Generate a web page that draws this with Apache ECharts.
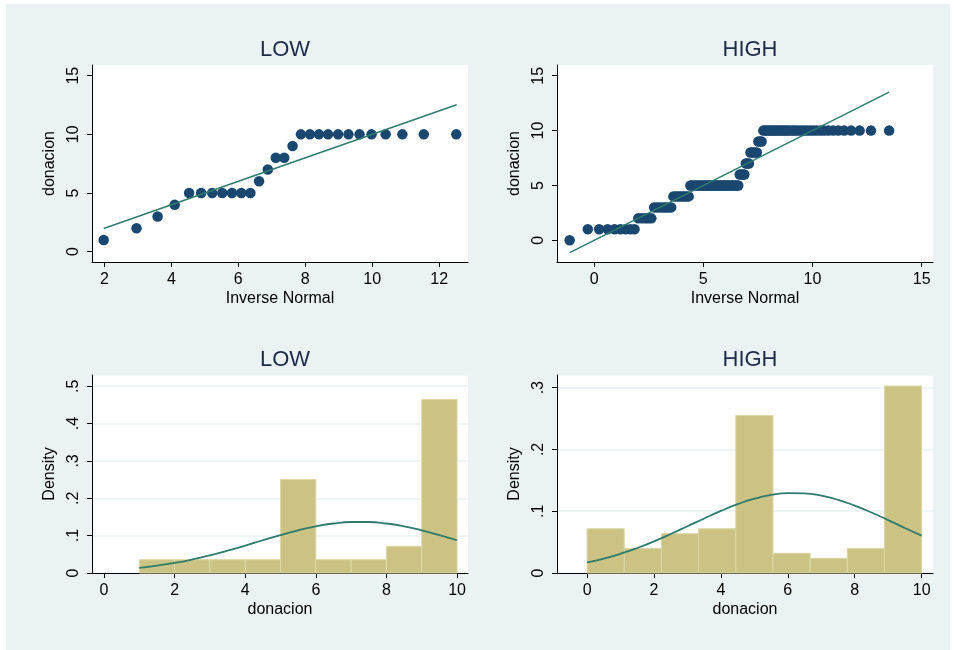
<!DOCTYPE html>
<html><head><meta charset="utf-8">
<script src="https://cdn.jsdelivr.net/npm/echarts@6/dist/echarts.min.js"></script>
<style>html,body{margin:0;padding:0;background:#fff}#c{width:954px;height:650px}</style>
</head><body><div id="c"></div>
<script>
// ---------- DATA ----------
const titles = ['LOW', 'HIGH', 'LOW', 'HIGH'];

// qnorm LOW: inverse normal quantiles and sorted donacion values
const lowQuantile = [1.98, 2.96, 3.59, 4.10, 4.53, 4.89, 5.22, 5.52, 5.81, 6.09, 6.36, 6.62, 6.88, 7.12,
  7.37, 7.62, 7.87, 8.14, 8.41, 8.68, 8.98, 9.29, 9.62, 9.98, 10.40, 10.90, 11.54, 12.51];
const lowDonacion = [1, 2, 3, 4, 5, 5, 5, 5, 5, 5, 5, 6, 7, 8, 8, 9, 10, 10, 10, 10, 10, 10, 10, 10, 10, 10, 10, 10];
const lowRefLine = [[1.98, 1.98], [12.52, 12.52]];

// qnorm HIGH
const highQuantile = [-1.12, -0.29, 0.23, 0.62, 0.94, 1.21, 1.44, 1.66, 1.85, 2.02, 2.19, 2.34, 2.48, 2.62,
  2.75, 2.87, 2.99, 3.11, 3.22, 3.32, 3.43, 3.53, 3.63, 3.72, 3.81, 3.90, 3.99, 4.08, 4.16, 4.24, 4.33,
  4.41, 4.49, 4.56, 4.64, 4.72, 4.79, 4.87, 4.94, 5.02, 5.09, 5.16, 5.23, 5.30, 5.37, 5.44, 5.52, 5.58,
  5.65, 5.72, 5.79, 5.86, 5.92, 5.99, 6.06, 6.13, 6.20, 6.26, 6.33, 6.40, 6.47, 6.53, 6.60, 6.67, 6.74,
  6.81, 6.88, 6.95, 7.02, 7.09, 7.16, 7.23, 7.30, 7.37, 7.45, 7.52, 7.60, 7.67, 7.75, 7.83, 7.90, 7.98,
  8.06, 8.15, 8.23, 8.31, 8.40, 8.49, 8.58, 8.67, 8.77, 8.86, 8.96, 9.07, 9.17, 9.28, 9.40, 9.52, 9.64,
  9.77, 9.91, 10.05, 10.20, 10.37, 10.54, 10.73, 10.95, 11.18, 11.45, 11.77, 12.16, 12.68, 13.51];
const highDonacion = [0,
  1, 1, 1, 1, 1, 1, 1, 1,
  2, 2, 2, 2, 2,
  3, 3, 3, 3, 3, 3, 3, 3,
  4, 4, 4, 4, 4, 4, 4, 4, 4,
  5, 5, 5, 5, 5, 5, 5, 5, 5, 5, 5, 5, 5, 5, 5, 5, 5, 5, 5, 5, 5, 5, 5, 5, 5, 5, 5, 5, 5, 5, 5, 5,
  6, 6, 6, 6,
  7, 7, 7,
  8, 8, 8, 8, 8,
  9, 9, 9,
  10, 10, 10, 10, 10, 10, 10, 10, 10, 10, 10, 10, 10, 10, 10, 10, 10, 10, 10, 10, 10, 10, 10, 10, 10,
  10, 10, 10, 10, 10, 10, 10, 10, 10, 10];
const highRefLine = [[-1.12, -1.12], [13.51, 13.51]];

// histograms: [binStart, binEnd, density]
const lowBins = [[1, 2, 0.0357], [2, 3, 0.0357], [3, 4, 0.0357], [4, 5, 0.0357], [5, 6, 0.25],
  [6, 7, 0.0357], [7, 8, 0.0357], [8, 9, 0.0714], [9, 10, 0.4643]];
const highBins = [[0, 1.111, 0.0717], [1.111, 2.222, 0.0398], [2.222, 3.333, 0.0637], [3.333, 4.444, 0.0717],
  [4.444, 5.556, 0.2549], [5.556, 6.667, 0.0319], [6.667, 7.778, 0.0239], [7.778, 8.889, 0.0398], [8.889, 10, 0.3027]];

// normal density overlays
const lowCurveX = [1, 1.5, 2, 2.5, 3, 3.5, 4, 4.5, 5, 5.5, 6, 6.5, 7, 7.5, 8, 8.5, 9, 9.5, 10];
const lowCurveY = [0.0137, 0.0195, 0.0269, 0.0362, 0.0472, 0.0597, 0.0734, 0.0877, 0.1016, 0.1143, 0.1249,
  0.1325, 0.1365, 0.1365, 0.1325, 0.1249, 0.1143, 0.1016, 0.0877];
const highCurveX = [0, 0.5, 1, 1.5, 2, 2.5, 3, 3.5, 4, 4.5, 5, 5.5, 6, 6.5, 7, 7.5, 8, 8.5, 9, 9.5, 10];
const highCurveY = [0.0171, 0.0234, 0.0312, 0.0405, 0.0512, 0.0631, 0.0756, 0.0883, 0.1005, 0.1114, 0.1202,
  0.1263, 0.1293, 0.1290, 0.1252, 0.1185, 0.1091, 0.0979, 0.0856, 0.0728, 0.0604];

// tick values
const ticksLowQX = [2, 4, 6, 8, 10, 12];
const ticksQY = [0, 5, 10, 15];
const ticksHighQX = [0, 5, 10, 15];
const ticksHistX = [0, 2, 4, 6, 8, 10];

// ---------- STYLE ----------
const FONT = "'Liberation Sans', Arial, Helvetica, sans-serif";
const NAVY = '#1a476f';
const TEAL = '#2f7b6c';
const BAR = '#cbc283';
const BAR_EDGE = '#dcd7a8';
const BG = '#eaf2f3';

const grids = [
  {left: 92, top: 65, width: 376, height: 197},
  {left: 557, top: 65, width: 376, height: 197},
  {left: 92, top: 375, width: 376, height: 198},
  {left: 557, top: 375, width: 376, height: 198}
].map(g => Object.assign({show: true, backgroundColor: '#fff', borderWidth: 0, outerBoundsMode: 'none', containLabel: false}, g));

function densityLabel(v) {
  if (Math.abs(v) < 1e-9) return '0';
  return String(Math.round(v * 10) / 10).replace(/^0/, '');
}

function xAxis(gi, min, max, ticks, name) {
  return {
    type: 'value', gridIndex: gi, min: min, max: max,
    name: name, nameLocation: 'middle', nameGap: 29,
    nameTextStyle: {fontFamily: FONT, fontSize: 16, color: '#000'},
    axisLine: {show: true, onZero: false, lineStyle: {color: '#000', width: 1}},
    axisTick: {show: true, length: 5, customValues: ticks, lineStyle: {color: '#000'}},
    axisLabel: {customValues: ticks, fontFamily: FONT, fontSize: 16, color: '#000', margin: 10},
    splitLine: {show: false}
  };
}
function yAxisQ(gi, min, max, ticks) {
  return {
    type: 'value', gridIndex: gi, min: min, max: max,
    name: 'donacion', nameLocation: 'middle', nameGap: 34,
    nameTextStyle: {fontFamily: FONT, fontSize: 16, color: '#000'},
    axisLine: {show: true, onZero: false, lineStyle: {color: '#000', width: 1}},
    axisTick: {show: true, length: 5, customValues: ticks, lineStyle: {color: '#000'}},
    axisLabel: {customValues: ticks, rotate: 90, fontFamily: FONT, fontSize: 16, color: '#000', margin: 10},
    splitLine: {show: false}
  };
}
function yAxisH(gi, max) {
  return {
    type: 'value', gridIndex: gi, min: 0, max: max, interval: 0.1,
    name: 'Density', nameLocation: 'middle', nameGap: 34,
    nameTextStyle: {fontFamily: FONT, fontSize: 16, color: '#000'},
    axisLine: {show: true, onZero: false, lineStyle: {color: '#000', width: 1}},
    axisTick: {show: true, length: 5, lineStyle: {color: '#000'}},
    axisLabel: {rotate: 90, fontFamily: FONT, fontSize: 16, color: '#000', margin: 10, formatter: densityLabel, showMaxLabel: false},
    splitLine: {show: true, lineStyle: {color: BG, width: 1.5}}
  };
}

function histSeries(bins, gi) {
  return {
    type: 'custom', xAxisIndex: gi, yAxisIndex: gi,
    data: bins,
    renderItem: function (params, api) {
      const p0 = api.coord([api.value(0), api.value(2)]);
      const p1 = api.coord([api.value(1), 0]);
      return {
        type: 'rect',
        shape: {x: p0[0], y: p0[1], width: p1[0] - p0[0], height: p1[1] - p0[1]},
        style: {fill: BAR, stroke: BAR_EDGE, lineWidth: 1}
      };
    },
    encode: {x: [0, 1], y: 2},
    z: 2
  };
}

const titleObjs = grids.map((g, i) => ({
  text: titles[i], left: g.left + g.width / 2, textAlign: 'center',
  top: g.top - 31,
  textStyle: {fontFamily: FONT, fontSize: 22, fontWeight: 'normal', color: '#1e2b48'}
}));

const option = {
  backgroundColor: '#fff',
  animation: false,
  graphic: [{type: 'rect', shape: {x: 6, y: 4, width: 944, height: 646}, style: {fill: BG}, z: -10, silent: true}],
  title: titleObjs,
  grid: grids,
  xAxis: [
    xAxis(0, 1.63, 12.86, ticksLowQX, 'Inverse Normal'),
    xAxis(1, -1.70, 15.52, ticksHighQX, 'Inverse Normal'),
    xAxis(2, -0.34, 10.31, ticksHistX, 'donacion'),
    xAxis(3, -0.90, 10.34, ticksHistX, 'donacion')
  ],
  yAxis: [
    yAxisQ(0, -0.88, 15.91, ticksQY),
    yAxisQ(1, -1.98, 15.98, ticksQY),
    yAxisH(2, 0.53),
    yAxisH(3, 0.3205)
  ],
  series: [
    {type: 'scatter', xAxisIndex: 0, yAxisIndex: 0, symbolSize: 10.5,
      itemStyle: {color: NAVY, opacity: 1}, data: lowQuantile.map((x, i) => [x, lowDonacion[i]])},
    {type: 'line', xAxisIndex: 0, yAxisIndex: 0, data: lowRefLine, showSymbol: false,
      lineStyle: {color: TEAL, width: 1.5}, z: 3},
    {type: 'scatter', xAxisIndex: 1, yAxisIndex: 1, symbolSize: 10.5,
      itemStyle: {color: NAVY, opacity: 1}, data: highQuantile.map((x, i) => [x, highDonacion[i]])},
    {type: 'line', xAxisIndex: 1, yAxisIndex: 1, data: highRefLine, showSymbol: false,
      lineStyle: {color: TEAL, width: 1.5}, z: 3},
    histSeries(lowBins, 2),
    {type: 'line', xAxisIndex: 2, yAxisIndex: 2, data: lowCurveX.map((x, i) => [x, lowCurveY[i]]),
      showSymbol: false, smooth: true, lineStyle: {color: TEAL, width: 1.8}, z: 4},
    histSeries(highBins, 3),
    {type: 'line', xAxisIndex: 3, yAxisIndex: 3, data: highCurveX.map((x, i) => [x, highCurveY[i]]),
      showSymbol: false, smooth: true, lineStyle: {color: TEAL, width: 1.8}, z: 4}
  ]
};

const chart = echarts.init(document.getElementById('c'), null, {renderer: 'canvas'});
chart.setOption(option);
</script>
</body></html>
